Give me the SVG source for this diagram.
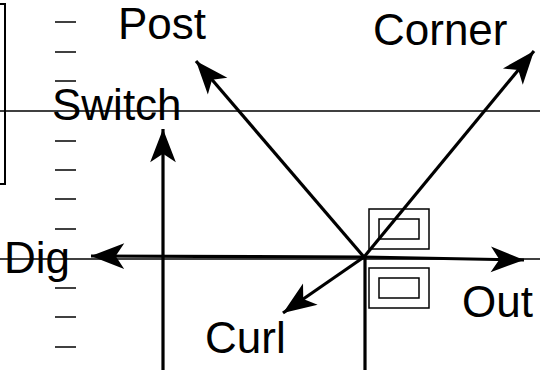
<svg xmlns="http://www.w3.org/2000/svg" width="540" height="370" viewBox="0 0 540 370">
<style>
text{font-family:"Liberation Sans",Arial,sans-serif;font-size:44px;fill:#000}
.thin{stroke:#000;stroke-width:1.5;fill:none}
.thick{stroke:#000;stroke-width:3.2;fill:none}
.arr{stroke:#000;stroke-width:3.2;fill:none;marker-end:url(#ah)}
.tick{stroke:#000;stroke-width:1.5}
.box{fill:none;stroke:#000;stroke-width:1.5}
</style>
<defs>
<marker id="ah" markerUnits="userSpaceOnUse" markerWidth="40" markerHeight="30" viewBox="-34 -14 36 28" refX="0" refY="0" orient="auto">
<path d="M0,0 L-31,-12 L-23,0 L-31,12 Z" fill="#000"/>
</marker>
</defs>
<g id="frame">
<path class="thin" d="M0,4 H5 V184 H0" style="stroke-width:2"/>
<line class="thin" x1="0" y1="111" x2="540" y2="111"/>
<line class="thin" x1="0" y1="259" x2="540" y2="259"/>
</g>
<g id="ticks">
<line class="tick" x1="55" y1="22" x2="76" y2="22"/>
<line class="tick" x1="55" y1="52" x2="76" y2="52"/>
<line class="tick" x1="55" y1="81" x2="76" y2="81"/>
<line class="tick" x1="55" y1="141" x2="76" y2="141"/>
<line class="tick" x1="55" y1="170" x2="76" y2="170"/>
<line class="tick" x1="55" y1="199" x2="76" y2="199"/>
<line class="tick" x1="55" y1="229" x2="76" y2="229"/>
<line class="tick" x1="55" y1="288" x2="76" y2="288"/>
<line class="tick" x1="55" y1="317" x2="76" y2="317"/>
<line class="tick" x1="55" y1="347" x2="76" y2="347"/>
</g>
<g id="connectors">
<line class="arr" x1="364" y1="257" x2="196" y2="61"/>
<line class="arr" x1="364" y1="257" x2="534" y2="51"/>
<line class="arr" x1="364" y1="257" x2="91" y2="256"/>
<line class="arr" x1="364" y1="257" x2="524" y2="260"/>
<line class="arr" x1="364" y1="257" x2="283" y2="313"/>
<line class="arr" x1="163" y1="370" x2="163" y2="129"/>
<line class="thick" x1="365" y1="257" x2="365" y2="370"/>
</g>
<g id="box-upper">
<rect class="box" x="369" y="209" width="60" height="40"/>
<rect class="box" x="379" y="219" width="40" height="20"/>
</g>
<g id="box-lower">
<rect class="box" x="369" y="268" width="60" height="40"/>
<rect class="box" x="379" y="278" width="40" height="20"/>
</g>
<g id="post"><text x="118" y="39">Post</text></g>
<g id="corner"><text x="373" y="45">Corner</text></g>
<g id="switch"><text x="52" y="120">Switch</text></g>
<g id="dig"><text x="4" y="273">Dig</text></g>
<g id="curl"><text x="205" y="353">Curl</text></g>
<g id="out"><text x="462" y="317">Out</text></g>
</svg>
